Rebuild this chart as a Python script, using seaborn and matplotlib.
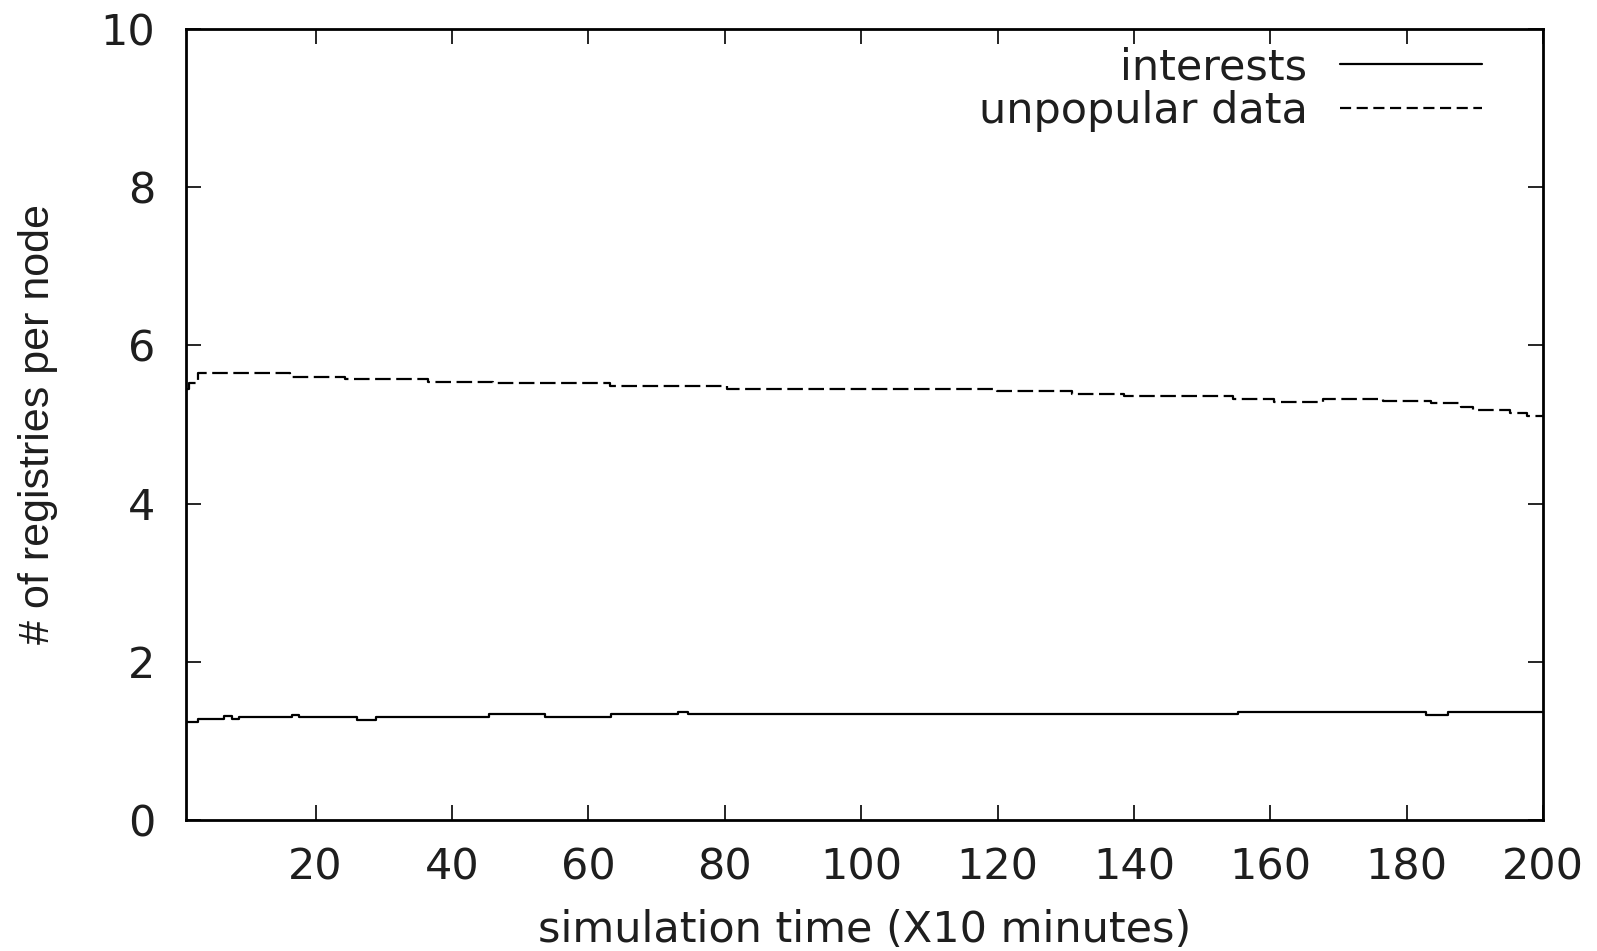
import numpy as np
import pandas as pd
import matplotlib
matplotlib.use("Agg")
import matplotlib.pyplot as plt
import seaborn as sns

# step positions (simulation time) and level after each step
interests_x = [1, 2.7, 6.6, 7.8, 8.8, 16.5, 17.6, 26, 28.8, 45.4, 53.7, 63.3,
               73.2, 74.6, 155.3, 182.9, 186, 200]
interests_y = [1.24, 1.28, 1.31, 1.28, 1.30, 1.33, 1.30, 1.27, 1.30, 1.34, 1.30,
               1.34, 1.37, 1.34, 1.37, 1.33, 1.37, 1.37]

unpop_x = [1, 1.5, 2.8, 16.3, 24.3, 36.5, 46, 63.2, 80.3, 119.9, 130.9, 138.5,
           154.6, 160.5, 167.8, 176.6, 183.5, 187.9, 189.8, 195.2, 197.7, 200]
unpop_y = [5.45, 5.53, 5.65, 5.60, 5.57, 5.54, 5.52, 5.49, 5.45, 5.42, 5.39, 5.36,
           5.32, 5.29, 5.32, 5.30, 5.27, 5.22, 5.18, 5.14, 5.11, 5.11]

x_ticks = [20, 40, 60, 80, 100, 120, 140, 160, 180, 200]
y_ticks = [0, 2, 4, 6, 8, 10]

sns.set_style("white")
plt.rcParams['font.family'] = ['DejaVu Sans']
plt.rcParams['font.size'] = 31
txt_col = '#1e1e1e'

df_int = pd.DataFrame({'time': interests_x, 'reg': interests_y})
df_unp = pd.DataFrame({'time': unpop_x, 'reg': unpop_y})

fig = plt.figure(figsize=(15.97, 9.51), dpi=100)
ax = fig.add_axes([0.1165, 0.1378, 0.8497, 0.8317])

sns.lineplot(data=df_int, x='time', y='reg', estimator=None, sort=False,
             drawstyle='steps-post', color='black', linewidth=1.6,
             label='interests', ax=ax)
sns.lineplot(data=df_unp, x='time', y='reg', estimator=None, sort=False,
             drawstyle='steps-post', color='black', linewidth=1.6,
             dashes=False, label='unpopular data', ax=ax)
ax.lines[1].set_dashes((7, 2.5))

ax.set_xlim(1, 200)
ax.set_ylim(0, 10)
ax.set_xticks(x_ticks)
ax.set_yticks(y_ticks)
ax.tick_params(direction='in', length=11, width=1.2, top=True, right=True,
               bottom=True, left=True,
               labelsize=31, colors='black', labelcolor=txt_col)
ax.tick_params(axis='y', pad=22)
ax.tick_params(axis='x', pad=19)
for sp in ax.spines.values():
    sp.set_linewidth(2)
    sp.set_color('black')

ax.set_xlabel("simulation time (X10 minutes)", fontsize=31, color=txt_col)
# vertical text is narrower in the reference
ax.set_ylabel("# of registries per node", fontsize=31, color=txt_col,
              family=['Liberation Sans', 'DejaVu Sans'])
ax.xaxis.set_label_coords(0.5, -0.112)
ax.yaxis.set_label_coords(-0.094, 0.5)

leg = ax.legend(loc='upper right', frameon=False, markerfirst=False,
                handlelength=3.3, handletextpad=0.75, labelspacing=0.05,
                fontsize=31, borderaxespad=0.2, bbox_to_anchor=(0.974, 1.011))
leg.get_lines()[1].set_dashes((5, 2.5))
for t in leg.get_texts():
    t.set_color(txt_col)
    t.set_ha('right')

fig.savefig('out.png', dpi=100)
